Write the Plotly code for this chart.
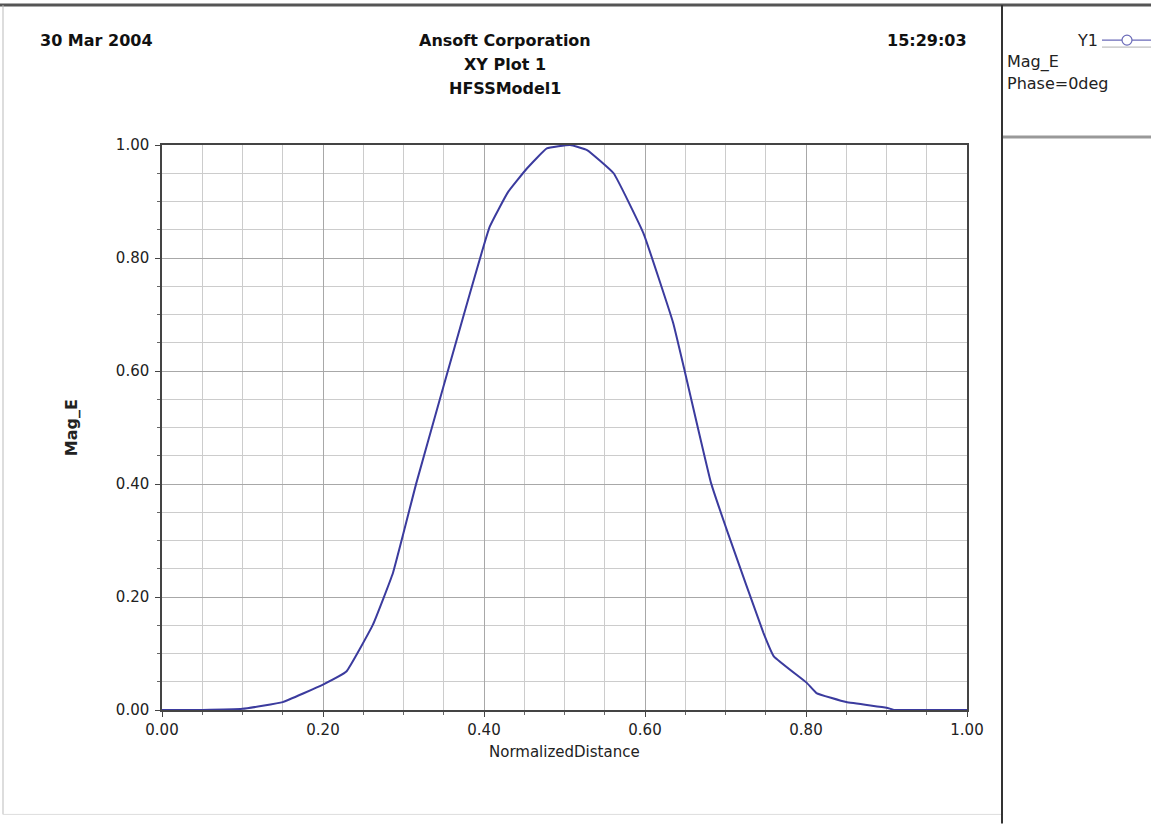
import plotly.graph_objects as go

# ---- data ----
normalized_distance = [0.00, 0.05, 0.10, 0.15, 0.20, 0.229, 0.262, 0.287, 0.316,
                       0.345, 0.407, 0.430, 0.453, 0.478, 0.507, 0.528, 0.561, 0.598,
                       0.635, 0.648, 0.682, 0.703, 0.747, 0.760, 0.801, 0.813, 0.850,
                       0.900, 0.910, 0.950, 1.00]
mag_e = [0.000, 0.000, 0.002, 0.014, 0.045, 0.068, 0.151, 0.243, 0.402,
         0.549, 0.855, 0.917, 0.958, 0.994, 1.000, 0.991, 0.950, 0.844,
         0.685, 0.608, 0.402, 0.313, 0.137, 0.095, 0.048, 0.030, 0.014,
         0.004, 0.000, 0.000, 0.000]
tick_vals = [0.0, 0.2, 0.4, 0.6, 0.8, 1.0]
tick_text = ["0.00", "0.20", "0.40", "0.60", "0.80", "1.00"]

header_left = "30 Mar 2004"
header_center = ["Ansoft Corporation", "XY Plot 1", "HFSSModel1"]
header_right = "15:29:03"
legend_name = "Y1"
legend_lines = ["Mag_E", "Phase=0deg"]
x_title = "NormalizedDistance"
y_title = "Mag_E"

W, H = 1151, 824
L, R, T, B = 162, 967, 145, 710.5

FONT = "DejaVu Sans, Verdana, sans-serif"
CURVE = "#3b3b9e"

fig = go.Figure()
fig.add_trace(go.Scatter(x=normalized_distance, y=mag_e, mode="lines",
                         line=dict(color=CURVE, width=2, shape="spline", smoothing=0.3),
                         showlegend=False))

axis_common = dict(
    range=[0, 1], tickvals=tick_vals, ticktext=tick_text,
    showline=True, linecolor="#444444", linewidth=1.5, mirror=True,
    ticks="outside", ticklen=5, tickcolor="#444444", tickwidth=1,
    showgrid=True, gridcolor="#a8a8a8", gridwidth=1,
    zeroline=False, tickfont=dict(family=FONT, size=15, color="#222222"),
    minor=dict(dtick=0.05, showgrid=True, gridcolor="#cccccc", gridwidth=1,
               ticks="outside", ticklen=3, tickcolor="#666666"),
    fixedrange=True,
)
fig.update_xaxes(**axis_common)
fig.update_yaxes(**axis_common, ticklabelstandoff=3)


def pxr(xp):
    return (xp - L) / (R - L)


def pyr(yp):
    return (B - yp) / (B - T)


# axis titles
fig.add_annotation(text=x_title, xref="paper", yref="paper", x=0.5, y=pyr(753),
                   xanchor="center", yanchor="middle", showarrow=False,
                   font=dict(family=FONT, size=15, color="#222222"))
fig.add_annotation(text="<b>%s</b>" % y_title, xref="paper", yref="paper",
                   x=pxr(71.7), y=0.5, textangle=-90,
                   xanchor="center", yanchor="middle", showarrow=False,
                   font=dict(family=FONT, size=16, color="#222222"))

# header texts
hdr_font = dict(family=FONT, size=16, color="#111111")
fig.add_annotation(text="<b>%s</b>" % header_left, xref="paper", yref="paper",
                   x=pxr(38), y=pyr(40), xanchor="left", yanchor="middle",
                   showarrow=False, font=hdr_font)
for txt, yy in zip(header_center, [40, 64, 88]):
    fig.add_annotation(text="<b>%s</b>" % txt, xref="paper", yref="paper",
                       x=pxr(505), y=pyr(yy), xanchor="center", yanchor="middle",
                       showarrow=False, font=hdr_font)
fig.add_annotation(text="<b>%s</b>" % header_right, xref="paper", yref="paper",
                   x=pxr(969), y=pyr(40), xanchor="right", yanchor="middle",
                   showarrow=False, font=hdr_font)

# legend panel
leg_font = dict(family=FONT, size=16, color="#222222")
fig.add_annotation(text=legend_name, xref="paper", yref="paper",
                   x=pxr(1100), y=pyr(40), xanchor="right", yanchor="middle",
                   showarrow=False, font=leg_font)
for txt, yy in zip(legend_lines, [62, 83]):
    fig.add_annotation(text=txt, xref="paper", yref="paper",
                       x=pxr(1005), y=pyr(yy), xanchor="left", yanchor="middle",
                       showarrow=False, font=leg_font)

shapes = [
    # top border
    dict(type="line", xref="paper", yref="paper", x0=pxr(0), x1=pxr(W), y0=pyr(5), y1=pyr(5),
         line=dict(color="#555555", width=3)),
    # left border
    dict(type="line", xref="paper", yref="paper", x0=pxr(3), x1=pxr(3), y0=pyr(5), y1=pyr(815),
         line=dict(color="#bbbbbb", width=1)),
    # bottom border
    dict(type="line", xref="paper", yref="paper", x0=pxr(3), x1=pxr(1002), y0=pyr(815), y1=pyr(815),
         line=dict(color="#dddddd", width=1)),
    # vertical divider
    dict(type="line", xref="paper", yref="paper", x0=pxr(1002), x1=pxr(1002), y0=pyr(5), y1=pyr(H),
         line=dict(color="#333333", width=2)),
    # legend separator
    dict(type="line", xref="paper", yref="paper", x0=pxr(1003), x1=pxr(W), y0=pyr(137), y1=pyr(137),
         line=dict(color="#999999", width=3)),
    # legend sample line
    dict(type="line", xref="paper", yref="paper", x0=pxr(1102), x1=pxr(W), y0=pyr(40), y1=pyr(40),
         line=dict(color="#6a6ab8", width=1.2)),
    dict(type="line", xref="paper", yref="paper", x0=pxr(1102), x1=pxr(W), y0=pyr(47), y1=pyr(47),
         line=dict(color="#b0b0b0", width=1)),
    dict(type="circle", xref="paper", yref="paper", x0=pxr(1122), x1=pxr(1132), y0=pyr(35), y1=pyr(45),
         line=dict(color="#6a6ab8", width=1.2), fillcolor="white"),
]
fig.update_layout(shapes=shapes)

fig.update_layout(
    width=W, height=H, autosize=False,
    margin=dict(l=L, r=W - R, t=T, b=H - B, pad=0),
    paper_bgcolor="white", plot_bgcolor="white",
    showlegend=False,
)

fig.write_html("out.html", config={"displayModeBar": False},
               post_script="document.body.style.margin='0';document.body.style.overflow='hidden';")
